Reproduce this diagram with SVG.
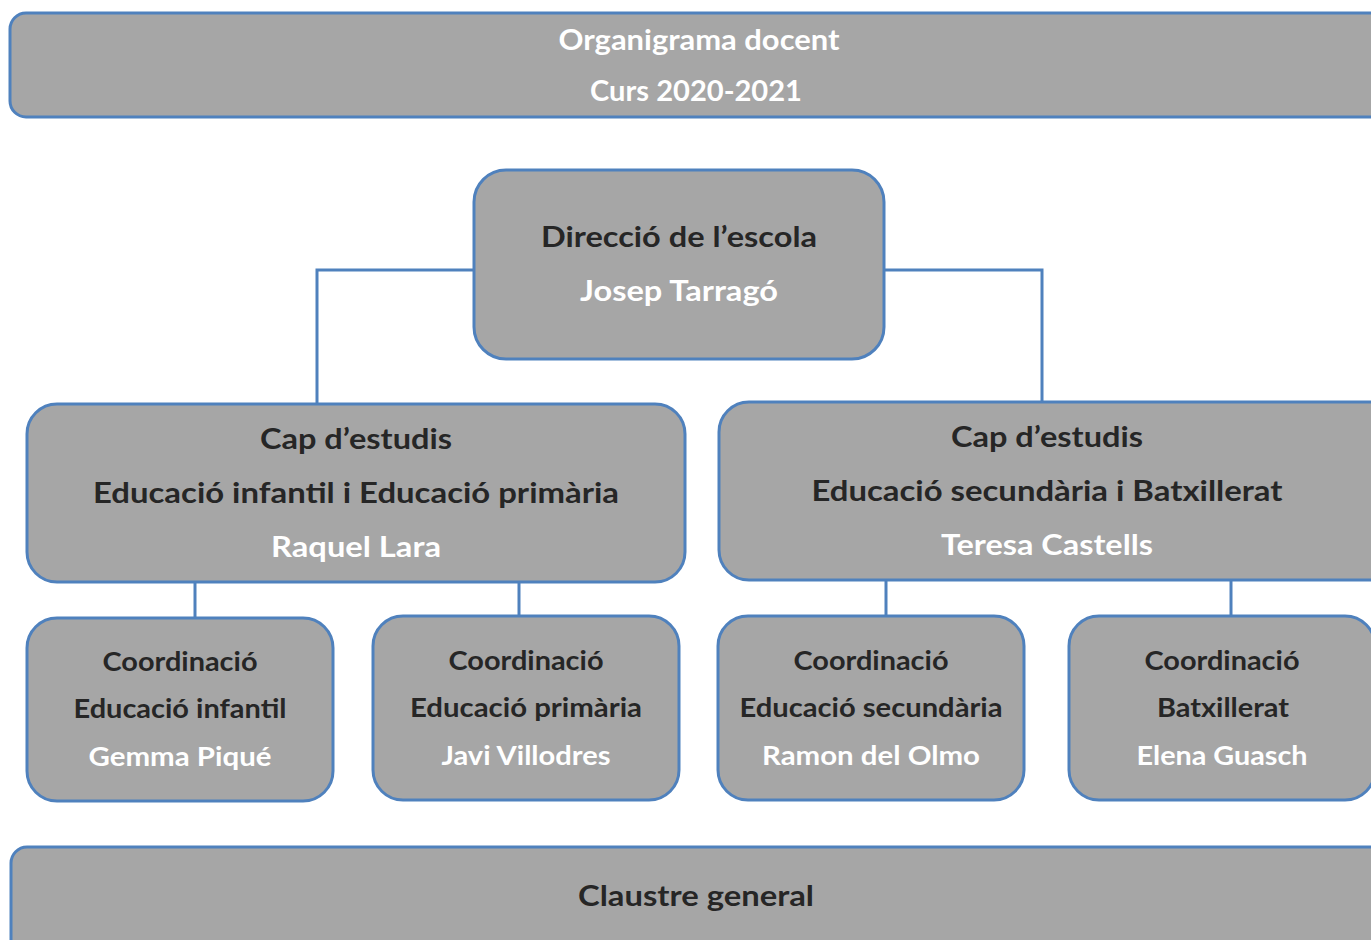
<svg xmlns="http://www.w3.org/2000/svg" width="1371" height="940" viewBox="0 0 1371 940">
<style>
.box{fill:#A6A6A6;stroke:#4F81BD;stroke-width:3}
.conn{fill:none;stroke:#4F81BD;stroke-width:3}
text{font-family:Lato,"Open Sans","Liberation Sans",sans-serif;font-weight:bold;text-anchor:middle}
.d{fill:#262626;font-size:28px}
.w{fill:#FFFFFF;font-size:28px}
.sd{fill:#262626;font-size:26px}
.sw{fill:#FFFFFF;font-size:26px}
</style>
<rect width="1371" height="940" fill="#FFFFFF"/>
<g id="connectors">
<polyline class="conn" points="474,270 317,270 317,404"/>
<polyline class="conn" points="884,270 1042,270 1042,402"/>
<line class="conn" x1="195" y1="582" x2="195" y2="618"/>
<line class="conn" x1="519" y1="582" x2="519" y2="616"/>
<line class="conn" x1="886" y1="580" x2="886" y2="616"/>
<line class="conn" x1="1231" y1="580" x2="1231" y2="616"/>
</g>
<g id="title">
<rect class="box" x="10" y="13" width="1390" height="104" rx="16"/>
<text class="w" x="699" y="50" textLength="281" lengthAdjust="spacingAndGlyphs">Organigrama docent</text>
<text class="w" x="696" y="101" textLength="212" lengthAdjust="spacingAndGlyphs">Curs 2020-2021</text>
</g>
<g id="direccio">
<rect class="box" x="474" y="170" width="410" height="189" rx="32"/>
<text class="d" x="679" y="247" textLength="276" lengthAdjust="spacingAndGlyphs">Direcció de l’escola</text>
<text class="w" x="679" y="301" textLength="198" lengthAdjust="spacingAndGlyphs">Josep Tarragó</text>
</g>
<g id="cap-infantil-primaria">
<rect class="box" x="27" y="404" width="658" height="178" rx="30"/>
<text class="d" x="356" y="449" textLength="192" lengthAdjust="spacingAndGlyphs">Cap d’estudis</text>
<text class="d" x="356" y="503" textLength="526" lengthAdjust="spacingAndGlyphs">Educació infantil i Educació primària</text>
<text class="w" x="356" y="557" textLength="170" lengthAdjust="spacingAndGlyphs">Raquel Lara</text>
</g>
<g id="cap-secundaria-batxillerat">
<rect class="box" x="719" y="402" width="680" height="178" rx="30"/>
<text class="d" x="1047" y="447" textLength="192" lengthAdjust="spacingAndGlyphs">Cap d’estudis</text>
<text class="d" x="1047" y="501" textLength="471" lengthAdjust="spacingAndGlyphs">Educació secundària i Batxillerat</text>
<text class="w" x="1047" y="555" textLength="212" lengthAdjust="spacingAndGlyphs">Teresa Castells</text>
</g>
<g id="coord-infantil">
<rect class="box" x="27" y="618" width="306" height="183" rx="30"/>
<text class="sd" x="180" y="671" textLength="155" lengthAdjust="spacingAndGlyphs">Coordinació</text>
<text class="sd" x="180" y="718" textLength="213" lengthAdjust="spacingAndGlyphs">Educació infantil</text>
<text class="sw" x="180" y="766" textLength="183" lengthAdjust="spacingAndGlyphs">Gemma Piqué</text>
</g>
<g id="coord-primaria">
<rect class="box" x="373" y="616" width="306" height="184" rx="30"/>
<text class="sd" x="526" y="670" textLength="155" lengthAdjust="spacingAndGlyphs">Coordinació</text>
<text class="sd" x="526" y="717" textLength="232" lengthAdjust="spacingAndGlyphs">Educació primària</text>
<text class="sw" x="526" y="765" textLength="169" lengthAdjust="spacingAndGlyphs">Javi Villodres</text>
</g>
<g id="coord-secundaria">
<rect class="box" x="718" y="616" width="306" height="184" rx="30"/>
<text class="sd" x="871" y="670" textLength="155" lengthAdjust="spacingAndGlyphs">Coordinació</text>
<text class="sd" x="871" y="717" textLength="263" lengthAdjust="spacingAndGlyphs">Educació secundària</text>
<text class="sw" x="871" y="765" textLength="218" lengthAdjust="spacingAndGlyphs">Ramon del Olmo</text>
</g>
<g id="coord-batxillerat">
<rect class="box" x="1069" y="616" width="306" height="184" rx="30"/>
<text class="sd" x="1222" y="670" textLength="155" lengthAdjust="spacingAndGlyphs">Coordinació</text>
<text class="sd" x="1223" y="717" textLength="132" lengthAdjust="spacingAndGlyphs">Batxillerat</text>
<text class="sw" x="1222" y="765" textLength="171" lengthAdjust="spacingAndGlyphs">Elena Guasch</text>
</g>
<g id="claustre">
<rect class="box" x="11" y="847" width="1390" height="130" rx="16"/>
<text class="d" x="696" y="906" font-size="30" textLength="236" lengthAdjust="spacingAndGlyphs">Claustre general</text>
</g>
</svg>
